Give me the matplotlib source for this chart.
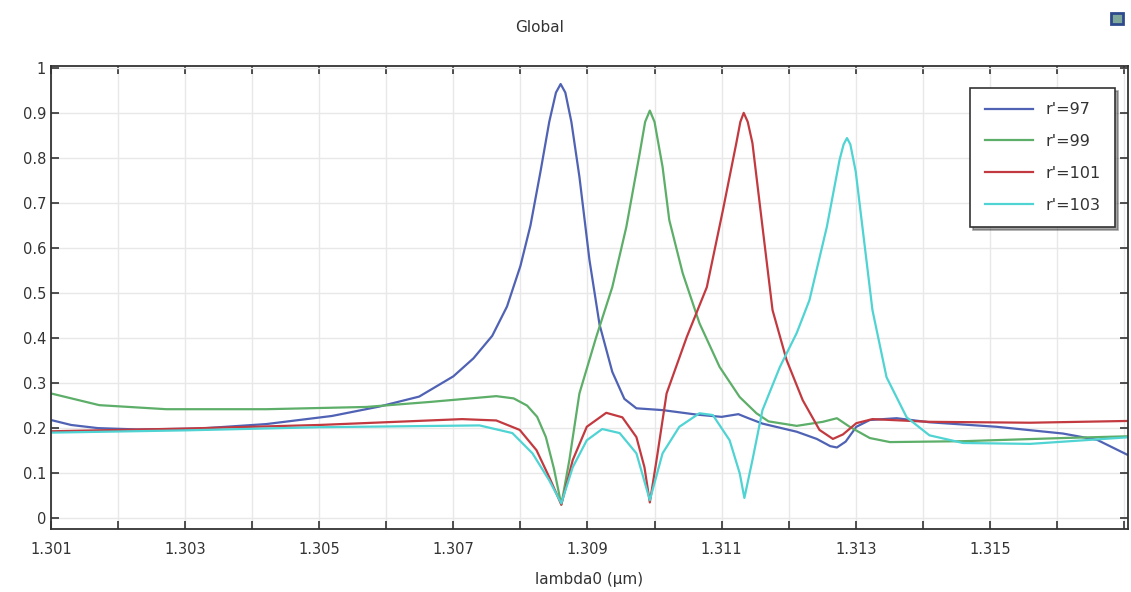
import matplotlib
matplotlib.use("Agg")
import matplotlib.pyplot as plt
from matplotlib.patches import Rectangle
from matplotlib.ticker import MultipleLocator, FuncFormatter

# values: wavelength (um) vs. signal
x97 = [1.30100, 1.30130, 1.30170, 1.30230, 1.30321, 1.30421, 1.30519, 1.30590,
       1.30649, 1.30700, 1.30730, 1.30758, 1.30780, 1.30800, 1.30815, 1.30830,
       1.30843, 1.30853, 1.30860, 1.30867, 1.30876, 1.30888, 1.30903, 1.30918,
       1.30937, 1.30955, 1.30973, 1.31012, 1.31063, 1.31100, 1.31125, 1.31140,
       1.31161, 1.31212, 1.31242, 1.31262, 1.31272, 1.31285, 1.31301, 1.31321,
       1.31361, 1.31410, 1.31510, 1.31609, 1.31660, 1.31709]
y97 = [0.218, 0.207, 0.200, 0.197, 0.199, 0.209, 0.227, 0.248,
       0.270, 0.315, 0.355, 0.405, 0.470, 0.560, 0.650, 0.770,
       0.880, 0.945, 0.964, 0.945, 0.880, 0.758, 0.573, 0.430,
       0.325, 0.265, 0.244, 0.240, 0.230, 0.225, 0.231, 0.222,
       0.210, 0.192, 0.176, 0.160, 0.157, 0.170, 0.203, 0.218,
       0.222, 0.213, 0.203, 0.188, 0.174, 0.138]

x99 = [1.30100, 1.30172, 1.30272, 1.30421, 1.30570, 1.30664, 1.30764, 1.30790,
       1.30810, 1.30825, 1.30838, 1.30850, 1.30861, 1.30873, 1.30888, 1.30913,
       1.30937, 1.30958, 1.30978, 1.30986, 1.30993, 1.31000, 1.31012, 1.31022,
       1.31042, 1.31067, 1.31097, 1.31127, 1.31152, 1.31170, 1.31212, 1.31251,
       1.31272, 1.31291, 1.31321, 1.31351, 1.31460, 1.31609, 1.31709]
y99 = [0.277, 0.251, 0.242, 0.242, 0.247, 0.258, 0.271, 0.266,
       0.250, 0.225, 0.180, 0.110, 0.030, 0.129, 0.277, 0.402,
       0.513, 0.647, 0.811, 0.880, 0.905, 0.880, 0.780, 0.662,
       0.544, 0.433, 0.336, 0.269, 0.233, 0.215, 0.205, 0.214,
       0.222, 0.203, 0.178, 0.169, 0.171, 0.178, 0.182]

x101 = [1.30100, 1.30300, 1.30500, 1.30713, 1.30764, 1.30799, 1.30824, 1.30843,
        1.30861, 1.30878, 1.30899, 1.30928, 1.30952, 1.30973, 1.30985, 1.30993,
        1.31003, 1.31018, 1.31048, 1.31078, 1.31102, 1.31122, 1.31128, 1.31133,
        1.31139, 1.31146, 1.31161, 1.31176, 1.31197, 1.31221, 1.31246, 1.31266,
        1.31281, 1.31301, 1.31325, 1.31410, 1.31560, 1.31709]
y101 = [0.193, 0.199, 0.207, 0.220, 0.217, 0.196, 0.151, 0.091,
        0.030, 0.129, 0.203, 0.234, 0.224, 0.180, 0.113, 0.035,
        0.129, 0.277, 0.402, 0.513, 0.684, 0.833, 0.880, 0.900,
        0.880, 0.833, 0.647, 0.462, 0.351, 0.262, 0.196, 0.176,
        0.186, 0.211, 0.220, 0.214, 0.212, 0.216]

x103 = [1.30100, 1.30300, 1.30500, 1.30739, 1.30788, 1.30818, 1.30843, 1.30861,
        1.30878, 1.30899, 1.30922, 1.30948, 1.30973, 1.30993, 1.31012, 1.31037,
        1.31067, 1.31087, 1.31112, 1.31127, 1.31134, 1.31146, 1.31161, 1.31187,
        1.31212, 1.31231, 1.31257, 1.31276, 1.31282, 1.31287, 1.31292, 1.31300,
        1.31310, 1.31325, 1.31346, 1.31376, 1.31410, 1.31460, 1.31560, 1.31660,
        1.31709]
y103 = [0.190, 0.195, 0.202, 0.206, 0.189, 0.144, 0.084, 0.033,
        0.113, 0.173, 0.198, 0.189, 0.144, 0.040, 0.144, 0.203,
        0.233, 0.229, 0.173, 0.100, 0.045, 0.129, 0.240, 0.336,
        0.411, 0.484, 0.647, 0.796, 0.830, 0.844, 0.830, 0.770,
        0.647, 0.462, 0.313, 0.224, 0.184, 0.167, 0.165, 0.175,
        0.180]

labels = ["r'=97", "r'=99", "r'=101", "r'=103"]
colors = ["#4f62b4", "#5cae68", "#c23a40", "#4fd3d3"]

fig = plt.figure(figsize=(11.31, 5.92), dpi=100)
ax = fig.add_axes([0.0451, 0.1064, 0.9522, 0.7821])

for xs, ys, lab, c in zip([x97, x99, x101, x103], [y97, y99, y101, y103], labels, colors):
    ax.plot(xs, ys, color=c, lw=1.6, label=lab)

ax.set_xlim(1.301, 1.31706)
ax.set_ylim(-0.024, 1.004)

ax.xaxis.set_major_locator(MultipleLocator(0.001))
ax.yaxis.set_major_locator(MultipleLocator(0.1))


def xfmt(v, pos):
    k = int(round((v - 1.301) / 0.001))
    if k % 2 == 0 and v < 1.3165:
        return f"{v:.3f}"
    return ""


def yfmt(v, pos):
    if abs(v - 1) < 1e-9:
        return "1"
    if abs(v) < 1e-9:
        return "0"
    return f"{v:.1f}"


ax.xaxis.set_major_formatter(FuncFormatter(xfmt))
ax.yaxis.set_major_formatter(FuncFormatter(yfmt))
ax.tick_params(direction="in", top=True, right=True, length=6, width=1.2,
               labelsize=10.5, labelcolor="#333333", color="#333333")
ax.tick_params(axis="x", pad=9)
ax.grid(True, color="#e8e8e8", lw=1)
for s in ax.spines.values():
    s.set_color("#333333")
    s.set_linewidth(1.3)

ax.set_xlabel("lambda0 (µm)", fontsize=11, color="#333333", labelpad=11)
fig.text(540 / 1131, 1 - 28 / 592, "Global", fontsize=11, color="#333333",
         ha="center", va="center")

# small toolbar icon in the top right corner
fig.patches.append(Rectangle((1111 / 1131, 1 - 24 / 592), 12 / 1131, 11 / 592,
                             transform=fig.transFigure, facecolor="#7fa79a",
                             edgecolor="#2f4a8c", lw=2))

leg = ax.legend(loc="upper right", bbox_to_anchor=(0.9955, 0.97), fontsize=11.5,
                fancybox=False, shadow=True, edgecolor="#333333",
                handlelength=3, borderpad=0.9, labelspacing=1.05)
leg.get_frame().set_linewidth(1.2)
for t in leg.get_texts():
    t.set_color("#333333")

fig.savefig("out.png", dpi=100)
